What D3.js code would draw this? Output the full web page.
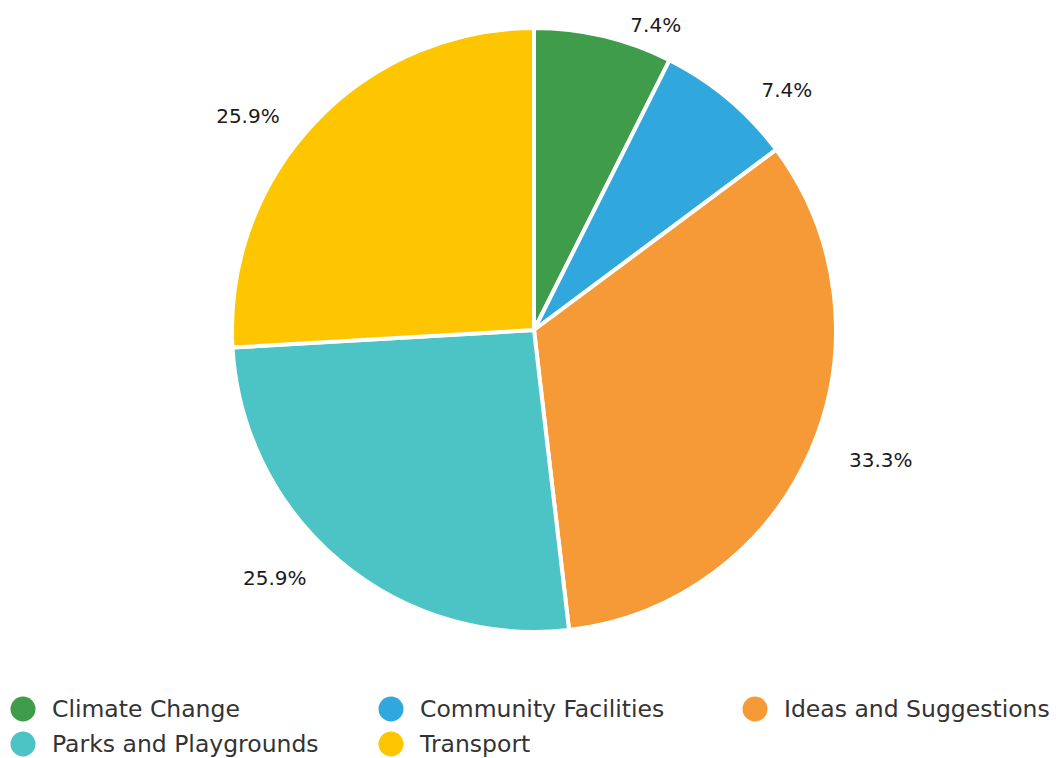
<!DOCTYPE html>
<html><head><meta charset="utf-8">
<script src="https://cdn.jsdelivr.net/npm/d3@7"></script>
<style>html,body{margin:0;padding:0;background:#fff;}svg{display:block;}</style>
</head><body>
<svg id="chart" width="1056" height="758"></svg>
<script>
const categories = ["Climate Change","Community Facilities","Ideas and Suggestions","Parks and Playgrounds","Transport"];
const values = [2, 2, 9, 7, 7];
const colors = ["#3e9c4b","#30a8dd","#f59a36","#4cc3c4","#fdc600"];

const W = 1056, H = 758;
const cx = 534, cy = 330, r = 302;
const svg = d3.select("#chart");
const total = d3.sum(values);
const data = categories.map((c,i)=>({name:c, value:values[i], color:colors[i]}));

const pie = d3.pie().value(d=>d.value).sort(null);
const arc = d3.arc().innerRadius(0).outerRadius(r);
const arcs = pie(data);

const g = svg.append("g").attr("transform",`translate(${cx},${cy})`);
g.selectAll("path").data(arcs).join("path")
  .attr("d", arc)
  .attr("fill", d=>d.data.color)
  .attr("stroke","#fff").attr("stroke-width",4).attr("stroke-linejoin","round");

// labels (Highcharts-like placement)
const labelR = r + 16, pad = 23;
const fmt = d3.format(".1f");
arcs.forEach(a=>{
  const mid = (a.startAngle + a.endAngle)/2;
  const dy = -labelR*Math.cos(mid);
  const right = Math.sin(mid) >= 0;
  const dx = Math.sqrt(Math.max(0, labelR*labelR - dy*dy)) + pad;
  g.append("text")
    .attr("x", right ? dx : -dx)
    .attr("y", dy + 4)
    .attr("dy","0.35em")
    .attr("text-anchor", right ? "start" : "end")
    .attr("font-family","'DejaVu Sans', sans-serif")
    .attr("font-size",20)
    .attr("fill","#1a1a1a")
    .text(fmt(a.data.value/total*100)+"%");
});

// legend
const colX = [23, 391, 755];
const rowY = [709, 744];
const lg = svg.append("g");
data.forEach((d,i)=>{
  const x = colX[i%3], y = rowY[Math.floor(i/3)];
  lg.append("circle").attr("cx",x).attr("cy",y).attr("r",12.5).attr("fill",d.color);
  lg.append("text").attr("x",x+29).attr("y",y).attr("dy","0.35em")
    .attr("font-family","'DejaVu Sans', sans-serif").attr("font-size",23.5)
    .attr("fill","#333").text(d.name);
});
</script>
</body></html>
